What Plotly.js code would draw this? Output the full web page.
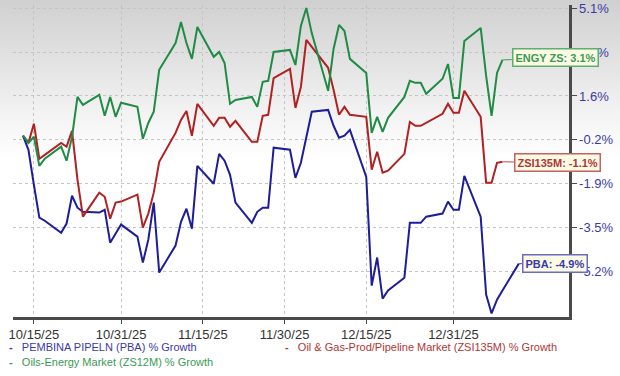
<!DOCTYPE html>
<html>
<head>
<meta charset="utf-8">
<script src="https://cdn.plot.ly/plotly-3.0.1.min.js"></script>
<style>
  html, body { margin: 0; padding: 0; }
  #chart {
    width: 620px; height: 376px;
    background: linear-gradient(to bottom, #d0d0d0 0px, #e2e2e2 60px, #f3f3f3 115px, #ffffff 160px, #ffffff 376px);
  }
</style>
</head>
<body>
<div id="chart"></div>
<script>
// ---- data (percent growth) ----
const dates = [
  '2025-10-13','2025-10-14','2025-10-15','2025-10-16','2025-10-17',
  '2025-10-20','2025-10-21','2025-10-22','2025-10-23','2025-10-24',
  '2025-10-27','2025-10-28','2025-10-29','2025-10-30','2025-10-31',
  '2025-11-03','2025-11-04','2025-11-05','2025-11-06','2025-11-07',
  '2025-11-10','2025-11-11','2025-11-12','2025-11-13','2025-11-14',
  '2025-11-17','2025-11-18','2025-11-19','2025-11-20','2025-11-21',
  '2025-11-24','2025-11-25','2025-11-26','2025-11-27','2025-11-28',
  '2025-12-01','2025-12-02','2025-12-03','2025-12-04','2025-12-05',
  '2025-12-08','2025-12-09','2025-12-10','2025-12-11','2025-12-12',
  '2025-12-15','2025-12-16','2025-12-17','2025-12-18','2025-12-19',
  '2025-12-22','2025-12-23','2025-12-24','2025-12-25','2025-12-26',
  '2025-12-29','2025-12-30','2025-12-31','2026-01-01','2026-01-02',
  '2026-01-05','2026-01-06','2026-01-07','2026-01-08','2026-01-09'
];
const pbaDates = dates.concat(['2026-01-12']);

const pba = [
  0.11,-0.44,-1.81,-3.10,-3.22,
  -3.69,-3.33,-2.24,-2.71,-2.87,
  -2.90,-2.79,-4.08,-3.73,-3.37,
  -3.84,-4.86,-3.96,-2.51,-5.25,
  -4.19,-3.26,-2.75,-3.53,-1.07,
  -1.77,-0.60,-0.87,-1.42,-2.51,
  -3.30,-2.87,-2.71,-2.71,-0.36,
  -0.44,-1.54,-0.95,0.11,1.05,
  1.12,0.50,0.03,0.11,0.34,
  -1.50,-5.76,-4.66,-6.27,-5.95,
  -5.45,-3.30,-3.30,-3.30,-3.06,
  -2.94,-2.47,-2.79,-2.79,-1.46,
  -3.06,-6.11,-6.85,-6.31,-5.95,
  -4.90
];
const zsi135m = [
  0.11,-0.17,0.58,-0.79,-0.64,
  -0.17,-0.32,0.30,-1.61,-3.06,
  -2.12,-2.28,-3.14,-2.51,-2.47,
  -2.20,-3.49,-2.94,-2.12,-0.91,
  0.22,0.73,1.08,0.11,1.36,
  0.50,0.81,0.81,0.46,0.69,
  -0.13,-0.13,0.89,0.93,2.37,
  2.73,1.20,2.02,3.86,3.59,
  2.77,1.91,0.93,1.24,0.93,
  0.85,-1.22,-0.52,-1.34,-1.26,
  -0.60,0.65,0.50,0.50,0.61,
  0.97,1.36,1.01,1.01,1.87,
  0.85,-1.73,-1.73,-0.95,-0.91
];
const zs12m = [
  0.11,-0.17,0.07,-1.07,-0.79,
  -0.32,-0.87,0.07,1.63,1.32,
  1.71,0.89,1.63,0.85,1.40,
  1.24,-0.01,0.61,1.05,2.69,
  3.74,4.56,3.74,3.12,4.37,
  3.20,3.39,2.96,1.36,1.51,
  1.63,1.24,2.22,2.26,3.39,
  3.47,2.88,4.41,5.11,4.13,
  1.87,3.51,4.45,4.21,3.12,
  2.57,0.22,0.85,0.26,0.81,
  1.63,2.26,2.18,2.18,1.75,
  2.34,2.92,1.59,1.59,3.82,
  4.33,2.45,0.89,2.57,3.08
];

const xTickDates = ['2025-10-15','2025-10-31','2025-11-15','2025-11-30','2025-12-15','2025-12-31'];
const xTickLabels = ['10/15/25','10/31/25','11/15/25','11/30/25','12/15/25','12/31/25'];
const yTickLabels = ['5.1%','3.3%','1.6%','-0.2%','-1.9%','-3.5%','-5.2%'];
const yTickTop = 5.1, yTickBottom = -5.2;

const seriesNames = ['PEMBINA PIPELN (PBA) % Growth',
                     'Oil & Gas-Prod/Pipeline Market (ZSI135M) % Growth',
                     'Oils-Energy Market (ZS12M) % Growth'];
const tagTexts = ['PBA: -4.9%', 'ZSI135M: -1.1%', 'ENGY ZS: 3.1%'];

// ---- styling ----
const FONT = 'Liberation Sans, Arial, sans-serif';
const cBlue = '#1d1d9a', cRed = '#b02222', cGreen = '#1f8b45';
const tBlue = '#3a3aa6', tRed = '#b03636', tGreen = '#3a9a55';

const yTickVals = yTickLabels.map((_, i) => yTickTop + (yTickBottom - yTickTop) * i / (yTickLabels.length - 1));

const traces = [
  {x: pbaDates, y: pba, type: 'scatter', mode: 'lines', line: {color: cBlue, width: 2}, name: seriesNames[0]},
  {x: dates, y: zsi135m, type: 'scatter', mode: 'lines', line: {color: cRed, width: 2}, name: seriesNames[1]},
  {x: dates, y: zs12m, type: 'scatter', mode: 'lines', line: {color: cGreen, width: 2}, name: seriesNames[2]}
];

const W = 620, H = 376, mL = 13, mR = 51, mT = 5, mB = 58.5;
const pw = W - mL - mR, ph = H - mT - mB;
const px = v => (v - mL) / pw;
const py = v => (H - mB - v) / ph;

function tag(xv, yv, text, col, border, ax, ay) {
  return {x: xv, y: yv, xref: 'x', yref: 'y', text: '<b>' + text + '</b>',
    showarrow: true, arrowhead: 0, arrowwidth: 1.2, arrowcolor: border, ax: ax, ay: ay, standoff: 0,
    font: {family: FONT, size: 11, color: col}, bgcolor: '#fbfbe4', bordercolor: border, borderwidth: 1.5, borderpad: 2};
}
function legendItem(xpix, ypix, text, col) {
  return {xref: 'paper', yref: 'paper', x: px(xpix), y: py(ypix), xanchor: 'left', yanchor: 'middle',
    text: '<b>-</b>&nbsp;&nbsp;&nbsp;' + text, showarrow: false, borderpad: 0,
    font: {family: FONT, size: 11, color: col}};
}

const annotations = [
  tag(pbaDates[pbaDates.length - 1], pba[pba.length - 1], tagTexts[0], tBlue, '#6b6bc0', 36, 0),
  tag(dates[dates.length - 1], zsi135m[zsi135m.length - 1], tagTexts[1], tRed, '#c46060', 55, 1),
  tag(dates[dates.length - 1], zs12m[zs12m.length - 1], tagTexts[2], tGreen, '#5aae6e', 53, -2),
  legendItem(8, 347.5, seriesNames[0], tBlue),
  legendItem(284, 347.5, seriesNames[1], tRed),
  legendItem(8, 363, seriesNames[2], tGreen)
];

const layout = {
  width: W, height: H,
  margin: {l: mL, r: mR, t: mT, b: mB, pad: 0},
  paper_bgcolor: 'rgba(0,0,0,0)', plot_bgcolor: 'rgba(0,0,0,0)',
  showlegend: false,
  font: {family: FONT},
  xaxis: {
    type: 'date', range: ['2025-10-11 04:00', '2026-01-21 05:00'],
    tickmode: 'array', tickvals: xTickDates, ticktext: xTickLabels,
    showgrid: true, gridcolor: '#c4c4c4', griddash: 'dot', gridwidth: 1,
    showline: true, linecolor: '#4a4a4a', linewidth: 2.5,
    ticks: 'outside', ticklen: 4, tickcolor: '#4a4a4a', tickwidth: 1,
    ticklabelstandoff: 0,
    tickfont: {family: FONT, size: 13, color: '#333333'},
    zeroline: false, fixedrange: true
  },
  yaxis: {
    side: 'right', range: [-6.99, 5.23],
    tickmode: 'array', tickvals: yTickVals, ticktext: yTickLabels,
    showgrid: true, gridcolor: '#c4c4c4', griddash: 'dot', gridwidth: 1,
    showline: true, linecolor: '#4a4a4a', linewidth: 2.5,
    ticks: 'outside', ticklen: 5, tickcolor: '#4a4a4a', tickwidth: 1,
    tickfont: {family: FONT, size: 13, color: tBlue},
    zeroline: false, fixedrange: true
  },
  annotations: annotations
};

Plotly.newPlot('chart', traces, layout, {staticPlot: true, displayModeBar: false});
</script>
</body>
</html>
